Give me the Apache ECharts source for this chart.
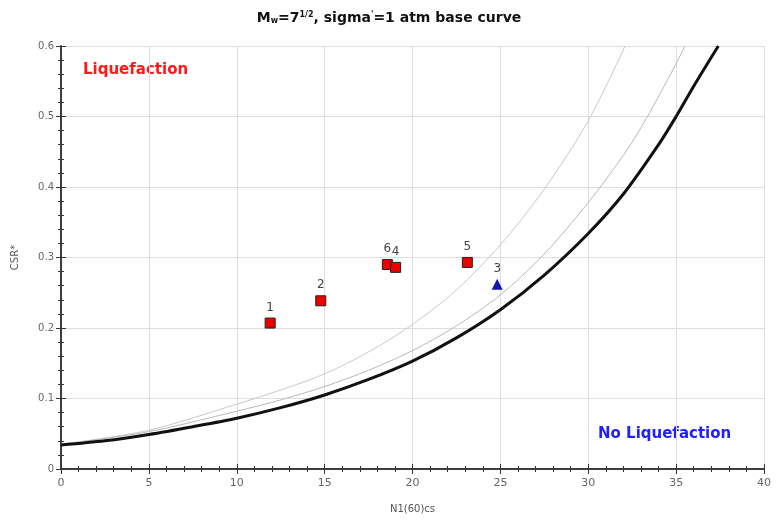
<!DOCTYPE html>
<html>
<head>
<meta charset="utf-8">
<script src="https://cdn.jsdelivr.net/npm/echarts@6/dist/echarts.min.js"></script>
<style>
html,body{margin:0;padding:0;background:#fff;}
#chart{width:778px;height:522px;}
</style>
</head>
<body>
<div id="chart"></div>
<script>
// Base curve (thick black)
const baseN   = [0, 2.5, 5, 7.5, 10, 12.5, 15, 17.5, 20, 22.5, 25, 27.5, 30, 32, 34, 35, 36, 37.4];
const baseCSR = [0.034, 0.040, 0.049, 0.060, 0.072, 0.087, 0.105, 0.127, 0.153, 0.186, 0.226, 0.275, 0.334, 0.39, 0.46, 0.5, 0.543, 0.6];
// Middle thin curve
const midN   = [0, 5, 10, 12.5, 15, 17.5, 20, 22.5, 25, 27.5, 30, 32, 33.3, 35, 35.5];
const midCSR = [0.035, 0.053, 0.082, 0.098, 0.117, 0.14, 0.168, 0.203, 0.247, 0.305, 0.378, 0.445, 0.497, 0.575, 0.6];
// Upper thin curve
const upN   = [0, 5, 10, 12.5, 15, 17.5, 20, 22.5, 25, 27.5, 30, 32.1];
const upCSR = [0.035, 0.055, 0.092, 0.112, 0.135, 0.166, 0.205, 0.254, 0.318, 0.397, 0.494, 0.6];
// Case points
const sqNames = ['1', '2', '6', '4', '5'];
const sqN     = [11.9, 14.78, 18.57, 19.04, 23.12];
const sqCSR   = [0.207, 0.2386, 0.290, 0.286, 0.293];
const triNames = ['3'];
const triN     = [24.82];
const triCSR   = [0.262];
// Axis ticks
const xTicks = [0, 5, 10, 15, 20, 25, 30, 35, 40];
const yTicks = [0, 0.1, 0.2, 0.3, 0.4, 0.5, 0.6];

const zip = (a, b) => a.map((v, i) => [v, b[i]]);
const chart = echarts.init(document.getElementById('chart'));
const axisLine = {show: true, lineStyle: {color: '#333', width: 1.5}};
const tickLabel = {color: '#666', fontSize: 10, fontFamily: 'DejaVu Sans'};

chart.setOption({
  animation: false,
  backgroundColor: '#fff',
  title: {
    text: '{b|M}{s|w}{b|=7}{p|1/2}{b|, sigma}{p|\'}{b|=1 atm base curve}',
    left: 'center', top: 6,
    textStyle: {
      rich: {
        b: {fontFamily: 'DejaVu Sans', fontWeight: 'bold', fontSize: 14, color: '#111'},
        s: {fontFamily: 'DejaVu Sans', fontWeight: 'bold', fontSize: 8, color: '#111', verticalAlign: 'bottom', padding: [6, 0, 0, 0]},
        p: {fontFamily: 'DejaVu Sans', fontWeight: 'bold', fontSize: 8, color: '#111', verticalAlign: 'top', padding: [0, 0, 6, 0]}
      }
    }
  },
  grid: {left: 61, right: 14, top: 46, bottom: 53, containLabel: false},
  xAxis: [{
    type: 'value', position: 'bottom', min: xTicks[0], max: xTicks[xTicks.length - 1], interval: 5,
    name: 'N1(60)cs', nameLocation: 'middle', nameGap: 35,
    nameTextStyle: {color: '#555', fontSize: 10, fontFamily: 'DejaVu Sans'},
    axisLine: axisLine,
    axisTick: {show: true, inside: false, length: 5, lineStyle: {color: '#333'}},
    minorTick: {show: true, splitNumber: 5, length: 3, lineStyle: {color: '#333'}},
    axisLabel: Object.assign({margin: 9}, tickLabel, {fontSize: 11}),
    splitLine: {show: true, lineStyle: {color: '#ddd', width: 1}}
  }, {
    type: 'value', position: 'top', min: xTicks[0], max: xTicks[xTicks.length - 1], interval: 5,
    axisLine: axisLine,
    axisTick: {show: true, length: 5, lineStyle: {color: '#333'}},
    minorTick: {show: true, splitNumber: 5, length: 3, lineStyle: {color: '#333'}},
    axisLabel: {show: false},
    splitLine: {show: false}
  }],
  yAxis: [{
    type: 'value', position: 'left', min: yTicks[0], max: yTicks[yTicks.length - 1], interval: 0.1,
    name: 'CSR*', nameLocation: 'middle', nameGap: 41, nameRotate: 90,
    nameTextStyle: {color: '#555', fontSize: 10, fontFamily: 'DejaVu Sans'},
    axisLine: axisLine,
    axisTick: {show: true, length: 5, lineStyle: {color: '#333'}},
    minorTick: {show: true, splitNumber: 5, length: 3, lineStyle: {color: '#333'}},
    axisLabel: Object.assign({margin: 7, formatter: v => String(Math.round(v * 10) / 10)}, tickLabel),
    splitLine: {show: true, lineStyle: {color: '#ddd', width: 1}}
  }, {
    type: 'value', position: 'right', min: yTicks[0], max: yTicks[yTicks.length - 1], interval: 0.1,
    axisLine: axisLine,
    axisTick: {show: true, length: 5, lineStyle: {color: '#333'}},
    minorTick: {show: true, splitNumber: 5, length: 3, lineStyle: {color: '#333'}},
    axisLabel: {show: false},
    splitLine: {show: false}
  }],
  graphic: [
    {type: 'text', left: 83, top: 63, style: {text: 'Liquefaction', fill: '#ff1a1a', font: 'bold 15px "DejaVu Sans"'}},
    {type: 'text', left: 598, top: 427, style: {text: 'No Liquefaction', fill: '#2020ff', font: 'bold 15px "DejaVu Sans"'}}
  ],
  series: [{
    type: 'line', data: zip(upN, upCSR), smooth: 0.3, showSymbol: false,
    lineStyle: {color: '#c8c8c8', width: 1}, z: 2
  }, {
    type: 'line', data: zip(midN, midCSR), smooth: 0.3, showSymbol: false,
    lineStyle: {color: '#b8b8b8', width: 1}, z: 2
  }, {
    type: 'line', data: zip(baseN, baseCSR), smooth: 0.3, showSymbol: false,
    lineStyle: {color: '#111', width: 3}, z: 3
  }, {
    type: 'scatter', symbol: 'rect', symbolSize: 10,
    data: sqN.map((n, i) => ({value: [n, sqCSR[i]], name: sqNames[i]})),
    itemStyle: {color: '#ee0000', borderColor: '#222', borderWidth: 1, opacity: 1},
    label: {show: true, position: 'top', distance: 4, formatter: p => p.name, color: '#444', fontSize: 12, fontFamily: 'DejaVu Sans'},
    z: 5
  }, {
    type: 'scatter', symbol: 'triangle', symbolSize: 11,
    data: triN.map((n, i) => ({value: [n, triCSR[i]], name: triNames[i]})),
    itemStyle: {color: '#1515b0', opacity: 1},
    label: {show: true, position: 'top', distance: 4, formatter: p => p.name, color: '#444', fontSize: 12, fontFamily: 'DejaVu Sans'},
    z: 5
  }]
});
</script>
</body>
</html>
